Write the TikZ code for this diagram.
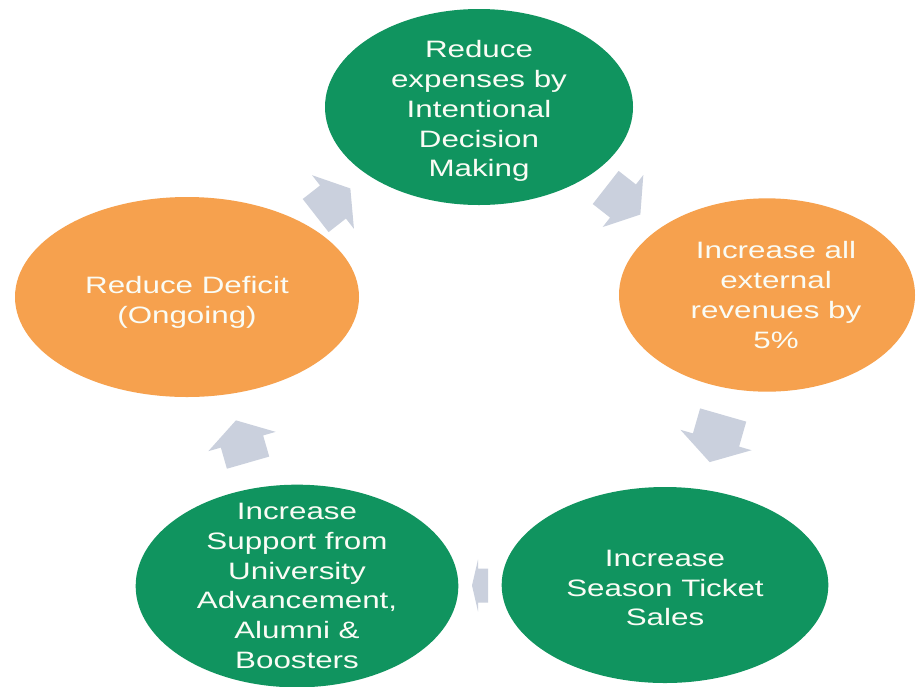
\documentclass[tikz,border=0pt]{standalone}
\usepackage{fontspec}
\setmainfont{Liberation Sans}[FakeStretch=1.32]
\usetikzlibrary{shapes.geometric,calc}
\definecolor{goalgreen}{RGB}{16,148,95}
\definecolor{goalorange}{RGB}{246,161,78}
\definecolor{cyclegray}{RGB}{202,208,221}
\definecolor{goalwhite}{RGB}{250,252,245}
\tikzset{
  goal/.style={ellipse, draw=none, inner sep=0pt},
  greengoal/.style={goal, fill=goalgreen},
  orangegoal/.style={goal, fill=goalorange},
  goaltext/.style={text=goalwhite, align=center, inner sep=0pt,
    font=\fontsize{17.8}{22.4}\selectfont},
  % block arrow: shaft length, shaft half-width, head half-width, head length
  pics/cyclearrow/.style n args={4}{code={
    \fill[cyclegray] (-#1,-#2) -- (0,-#2) -- (0,-#3) -- (#4,0)
      -- (0,#3) -- (0,#2) -- (-#1,#2) -- cycle;
  }}
}
\begin{document}
\begin{tikzpicture}[x=0.75pt,y=-0.75pt]
  \fill[white] (0,0) rectangle (919,686);
  \useasboundingbox (0,0) rectangle (919,686);

  % the five goals of the cycle
  \node[greengoal, minimum width=231pt, minimum height=147pt] (top) at (479,107) {};
  \node[orangegoal, minimum width=222pt, minimum height=145pt] (right) at (767,295) {};
  \node[greengoal, minimum width=245pt, minimum height=147pt] (br) at (665,585) {};
  \node[greengoal, minimum width=242pt, minimum height=152pt] (bl) at (297,586) {};
  \node[orangegoal, minimum width=258pt, minimum height=150pt] (left) at (187,297) {};

  \node[goaltext] (top-text) at ($(top)+(0,4)$) {Reduce\\expenses by\\Intentional\\Decision\\Making};
  \node[goaltext] (right-text) at ($(right)+(9,0)$) {Increase all\\external\\revenues by\\5\%};
  \node[goaltext] (br-text) at ($(br)+(0,3)$) {Increase\\Season Ticket\\Sales};
  \node[goaltext] (bl-text) at (bl) {Increase\\Support from\\University\\Advancement,\\Alumni \&\\Boosters};
  \node[goaltext] (left-text) at ($(left)+(0,5)$) {Reduce Deficit\\(Ongoing)};

  % arrows between consecutive goals
  \path ($(left)!0.5!(top)$) pic[rotate=38] {cyclearrow={22}{21}{34}{22}};
  \path ($(top)!0.5!(right)$) pic[rotate=-38] {cyclearrow={22}{21}{33}{22}};
  \path ($(right)!0.5!(br)$) pic[rotate=-106] {cyclearrow={26}{24}{37}{23}};
  \path ($(br)!0.5!(bl)$) ++(-3,0) pic[rotate=180] {cyclearrow={10}{17}{26}{6}};
  \path ($(bl)!0.5!(left)$) pic[rotate=106] {cyclearrow={22}{22}{35}{22}};
\end{tikzpicture}
\end{document}
